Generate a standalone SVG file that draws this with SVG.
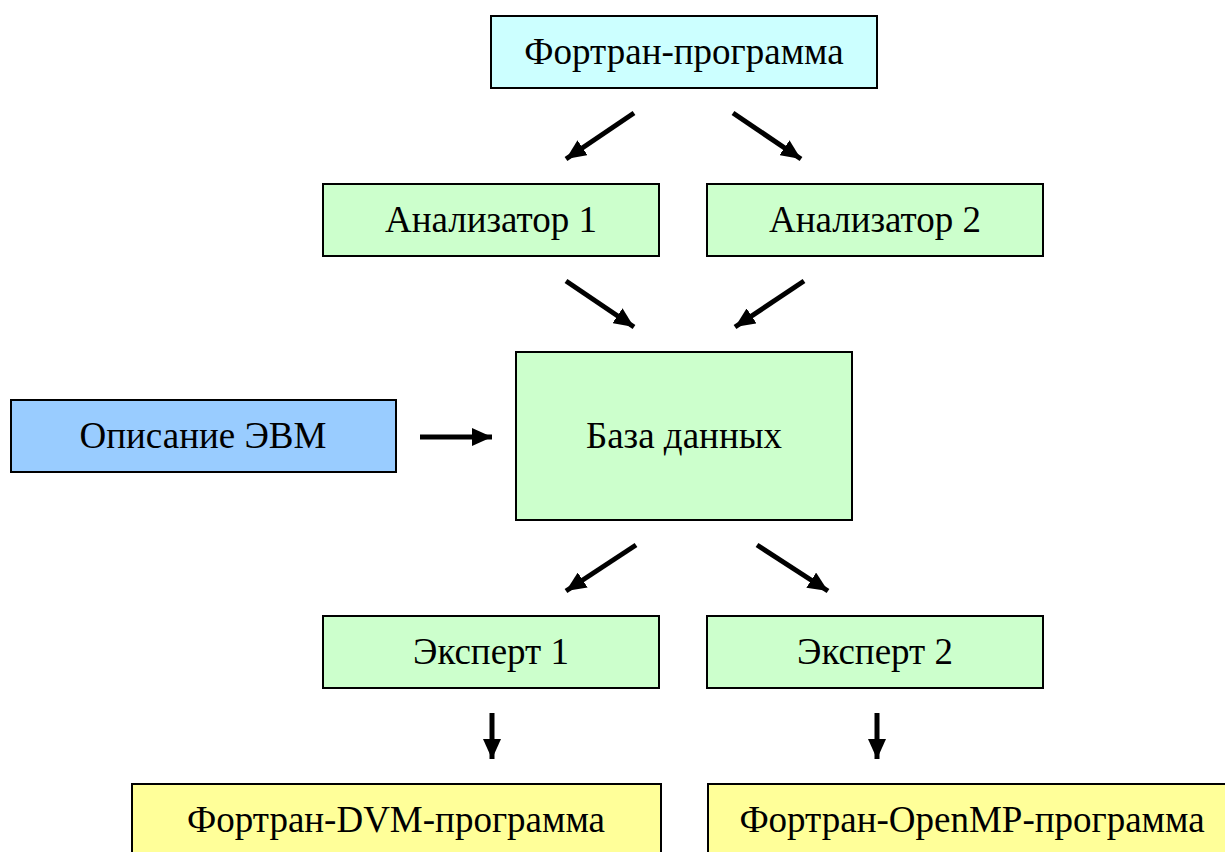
<svg xmlns="http://www.w3.org/2000/svg" width="1225" height="852" viewBox="0 0 1225 852">
<style>
.box{stroke:#000;stroke-width:2}
.cyan{fill:#CCFFFF}.green{fill:#CCFFCC}.blue{fill:#99CCFF}.yellow{fill:#FFFF99}
text{font-family:"Liberation Serif","Times New Roman","DejaVu Serif",serif;font-size:37px;fill:#000;text-anchor:middle}
.arr{stroke:#000;stroke-width:5;fill:none;marker-end:url(#ah)}
</style>
<defs>
<marker id="ah" markerUnits="userSpaceOnUse" markerWidth="20" markerHeight="18" refX="20" refY="9" orient="auto" viewBox="0 0 20 18">
<path d="M0,0 L20,9 L0,18 Z" fill="#000"/>
</marker>
</defs>
<rect width="1225" height="852" fill="#fff"/>
<g id="fortran"><rect class="box cyan" x="491" y="16" width="386" height="72"/><text x="684" y="64">Фортран-программа</text></g>
<g id="an1"><rect class="box green" x="323" y="184" width="336" height="72"/><text x="491" y="232">Анализатор 1</text></g>
<g id="an2"><rect class="box green" x="707" y="184" width="336" height="72"/><text x="875" y="232">Анализатор 2</text></g>
<g id="db"><rect class="box green" x="516" y="352" width="336" height="168"/><text x="684" y="448">База данных</text></g>
<g id="evm"><rect class="box blue" x="11" y="400" width="385" height="72"/><text x="203" y="448">Описание ЭВМ</text></g>
<g id="ex1"><rect class="box green" x="323" y="616" width="336" height="72"/><text x="491" y="664">Эксперт 1</text></g>
<g id="ex2"><rect class="box green" x="707" y="616" width="336" height="72"/><text x="875" y="664">Эксперт 2</text></g>
<g id="dvm"><rect class="box yellow" x="132" y="784" width="529" height="80"/><text x="396" y="832">Фортран-DVM-программа</text></g>
<g id="omp"><rect class="box yellow" x="708" y="784" width="530" height="80"/><text x="972" y="832">Фортран-OpenMP-программа</text></g>
<g id="connectors">
<line class="arr" x1="634" y1="113" x2="566" y2="159"/>
<line class="arr" x1="733" y1="113" x2="801" y2="159"/>
<line class="arr" x1="566" y1="281" x2="634" y2="327"/>
<line class="arr" x1="804" y1="281" x2="735" y2="327"/>
<line class="arr" x1="420" y1="437" x2="492" y2="437"/>
<line class="arr" x1="636" y1="545" x2="566" y2="591"/>
<line class="arr" x1="757" y1="545" x2="828" y2="591"/>
<line class="arr" x1="492" y1="713" x2="492" y2="759"/>
<line class="arr" x1="877" y1="713" x2="877" y2="759"/>
</g>
</svg>
